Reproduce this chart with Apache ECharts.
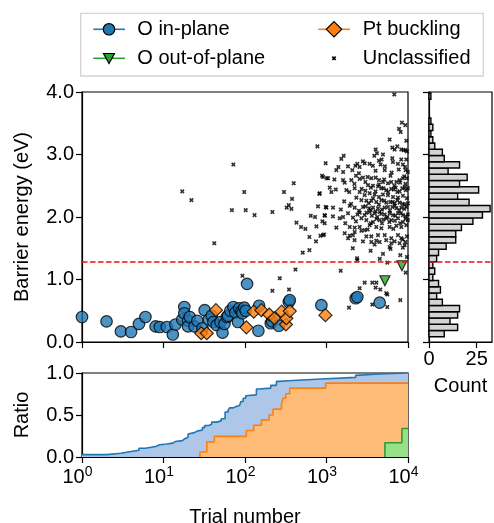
<!DOCTYPE html>
<html>
<head>
<meta charset="utf-8">
<script src="https://cdn.jsdelivr.net/npm/echarts@6/dist/echarts.min.js"></script>
<style>
  html, body { margin: 0; padding: 0; background: #fff; }
  #chart { width: 494px; height: 523px; }
</style>
</head>
<body>
<div id="chart"></div>
<script>
// trial number, barrier energy (eV)
var inPlane = [[1,0.40],[2,0.33],[3,0.17],[4,0.16],[5,0.29],[6,0.40],[8,0.25],[9,0.24],[11,0.24],[13,0.12],[14,0.28],
  [17,0.36],[18,0.56],[18,0.46],[20,0.34],[20,0.25],[21,0.40],[24,0.25],[26,0.34],[30,0.22],[32,0.51],[36,0.36],
  [39,0.42],[41,0.32],[45,0.27],[50,0.32],[53,0.15],[56,0.29],[60,0.40],[62,0.42],[66,0.50],[72,0.56],[76,0.47],
  [82,0.32],[85,0.54],[90,0.49],[93,0.46],[98,0.55],[102,0.50],[106,0.93],[146,0.18],[149,0.58],[207,0.30],
  [215,0.33],[260,0.26],[345,0.64],[354,0.67],[865,0.59],[2280,0.70],[2390,0.72],[4490,0.63]];
var outOfPlane = [[5210,0.98],[8420,1.22]];
var buckling = [[29,0.14],[34,0.14],[44,0.51],[104,0.235],[128,0.485],[159,0.51],[198,0.44],[229,0.38],
  [282,0.485],[318,0.28],[322,0.38],[354,0.495],[970,0.43]];
var unclassified = [
  [17,2.41],[22,2.27],[42,1.58],[69,2.11],[72,2.84],[93,1.06],[98,2.40],[102,2.11],[131,2.03],[217,2.08],[217,0.82],
  [267,1.02],[301,2.40],[325,2.15],[344,2.19],[347,0.84],[371,2.13],[378,2.29],[396,2.54],[416,1.16],[428,1.91],
  [487,1.84],[511,1.43],[551,1.81],[617,1.68],[617,1.47],[640,2.02],[723,2.00],[743,1.61],[752,1.85],[773,3.13],
  [787,2.17],[818,2.37],[842,1.70],[881,2.66],[891,1.93],[933,1.72],[955,2.02],[977,2.16],[977,2.86],[1010,2.62],
  [6790,3.96],[8420,3.51],[9270,3.47],[7760,3.41],[8130,3.36],[5950,3.24],[9530,3.22],[7390,3.13],[6420,3.11],
  [8270,3.08],[9340,3.07],[6850,3.08],[8830,3.07],[9700,3.05],[4010,3.08],[4160,3.02],[4930,3.00],[3860,2.98],
  [1625,2.98],[4750,2.92],[1520,2.93],[2800,2.89],[4400,2.90],[6420,2.94],[8270,2.92],[9530,2.92],[1835,2.81],
  [2260,2.82],[2390,2.85],[2550,2.80],[2940,2.86],[3380,2.85],[4610,2.84],[6530,2.88],[7520,2.85],[8660,2.84],
  [1321,2.75],[2075,2.75],[5176,2.75],[9354,2.75],[9977,2.72],
  [908,2.64],[1045,2.62],[1596,2.59],[1671,2.55],[2018,2.59],[2553,2.61],[2805,2.63],[3548,2.62],[4009,2.63],
  [4406,2.59],[4932,2.56],[5675,2.54],[6237,2.56],[7194,2.56],[7889,2.59],[8670,2.62],[9705,2.62],
  [3228,2.51],[3724,2.50],[4285,2.49],[4710,2.46],[5420,2.43],[6237,2.45],[7047,2.47],[7889,2.41],[9099,2.48],
  [9977,2.46],[1096,2.47],[1754,2.43],[2218,2.46],
  [2553,2.40],[2938,2.35],[3388,2.38],[3724,2.30],[4406,2.32],[4932,2.36],[5675,2.35],[6546,2.32],[7534,2.31],
  [8670,2.34],[9705,2.30],[826,2.38],[1148,2.40],
  [2323,2.31],[2679,2.27],[3083,2.26],[3548,2.26],[4083,2.24],[4710,2.27],[5420,2.23],[6067,2.24],[6855,2.22],
  [7889,2.23],[9099,2.20],[9977,2.22],
  [998,2.15],[1202,2.15],[1928,2.18],[2218,2.15],[2805,2.16],[3327,2.14],[3724,2.15],[4285,2.14],[5176,2.15],
  [5675,2.16],[6427,2.16],[7194,2.14],[8279,2.15],[9528,2.16],
  [950,2.03],[1452,1.98],[1596,2.00],[1837,2.06],[2113,1.99],[2553,2.07],[2938,2.03],[3388,2.08],[3899,2.06],
  [4487,2.08],[5176,2.04],[5957,2.06],[6546,2.03],[7534,2.06],[8670,2.03],[9977,2.04],
  [950,1.90],[2679,1.98],[3083,1.95],[3724,1.92],[4487,1.95],[5420,1.98],[6237,1.95],[7534,1.98],[8670,1.92],[9977,1.95],
  [1321,1.83],[1928,1.84],[2218,1.83],[2553,1.84],[2938,1.79],[3388,1.87],[4083,1.84],[4710,1.82],[5957,1.84],
  [7194,1.86],[8279,1.84],[9528,1.87],
  [908,1.71],[1671,1.74],[1928,1.70],[2113,1.71],[3083,1.69],[3548,1.69],[4285,1.71],[5176,1.71],[6237,1.66],
  [7534,1.71],[8279,1.66],[9705,1.69],[2218,1.76],[2679,1.78],
  [3548,1.60],[4487,1.60],[5957,1.52],[7889,1.58],[9099,1.55],[3899,1.56],[6237,1.58],
  [2390,1.31],[2370,1.34],[9700,1.36],[4500,1.33],[3480,1.46],[4930,1.41],[8050,1.39],[6100,1.49],[8650,1.51],
  [2100,1.50],[1840,1.66],[2210,1.63],[2800,1.61],[4080,1.62],[5400,1.63],[6850,1.61],[8600,1.64],[9300,1.60],
  [3200,1.80],[6600,1.81],
  [1700,1.90],[2300,1.93],[3500,1.90],[4100,1.97],[4800,1.90],[5000,1.96],[5900,1.92],[6900,1.94],[8000,1.90],[9300,1.97],
  [1200,2.01],[2400,2.04],[3100,2.07],[3600,2.02],[4200,2.00],[4700,2.05],[5600,2.00],[7000,2.02],[8200,2.06],[9400,2.01],
  [1500,2.12],[2500,2.10],[3000,2.17],[3500,2.11],[4000,2.09],[4800,2.12],[6000,2.10],[6900,2.18],[7800,2.11],[9000,2.13],
  [1650,2.25],[2000,2.21],[3300,2.22],[4400,2.20],[5100,2.26],[6500,2.24],[7400,2.27],[8600,2.21],[3900,2.36],
  [1300,2.44],[1900,2.40],[2700,2.45],[3000,2.42],[3500,2.47],[4000,2.41],[5000,2.46],[5700,2.40],[6700,2.44],
  [7400,2.40],[8500,2.46],[9400,2.43],
  [2200,2.53],[3000,2.56],[4400,2.52],[6800,2.50],[8000,2.55],[9300,2.53],
  [1250,2.60],[2300,2.66],[3200,2.64],[5100,2.60],[6100,2.66],[9000,2.65],
  [1600,2.72],[2500,2.70],[4000,2.74],[6300,2.71],[7700,2.76],
  [1400,2.80],[3700,2.82],[5200,2.81],[9200,2.80],
  [1493,1.14],[2938,0.95],[3648,0.95],[4083,0.95],[4009,0.87],[4571,0.84],[5570,0.76],[2553,0.86],[8050,0.67],
  [3648,0.60],[5570,0.56],[1888,0.55],[9354,1.11],[5570,1.27],[5408,0.78]
];
var threshold = 1.28;

// histogram of barrier energies: bins start at histStart, width histBinWidth
var histStart = 0.085;
var histBinWidth = 0.1;
var histCounts = [8,15,11,15,16,7,4,6,5,2,3,2,4,5,9,14,14,17,23,28,32,21,15,26,16,20,10,16,8,7,3,2,1,2,1,0,0,0,1];

// cumulative ratio curves (trial number, ratio)
var ratioInPlane = [[1,0.028],[2,0.044],[3,0.065],[4,0.081],[5,0.105],[6,0.125],[8,0.145],[9,0.155],[11,0.165],
  [13,0.185],[14,0.195],[17,0.214],[18,0.235],[20,0.274],[21,0.29],[24,0.31],[26,0.32],[30,0.35],[32,0.375],
  [36,0.39],[39,0.415],[45,0.43],[51,0.456],[57,0.535],[62,0.56],[65,0.585],[72,0.60],[78,0.617],[86,0.63],
  [89,0.66],[95,0.70],[102,0.73],[106,0.74],[138,0.81],[148,0.82],[207,0.853],[243,0.90],[262,0.908],[340,0.928],
  [865,0.948],[2280,0.972],[2390,0.988],[4490,1.0],[10000,1.0]];
var ratioBuckling = [[28,0],[28,0.06],[34,0.18],[42,0.246],[104,0.315],[128,0.378],[159,0.442],[198,0.50],
  [221,0.57],[280,0.63],[293,0.70],[316,0.753],[354,0.82],[977,0.88],[10000,0.88]];
var ratioOutOfPlane = [[5210,0],[5210,0.17],[8420,0.34],[10000,0.34]];

var FONT = 'Liberation Sans, Arial, sans-serif';
var BLUE = '#1f77b4', ORANGE = '#ff7f0e', GREEN = '#2ca02c';
var XMARK = 'path://M0,2L2,0L4,2L6,0L8,2L6,4L8,6L6,8L4,6L2,8L0,6L2,4Z';

var histData = histCounts.map(function (c, i) {
  return [histStart + i * histBinWidth, histStart + (i + 1) * histBinWidth, c];
});

function axisBase() {
  return {
    axisLine: { show: true, onZero: false, lineStyle: { color: '#000', width: 1.2 } },
    axisTick: { show: true, length: 6, lineStyle: { color: '#000', width: 1.2 } },
    axisLabel: { color: '#000', fontSize: 20, fontFamily: FONT },
    splitLine: { show: false },
    nameTextStyle: { color: '#000', fontSize: 20, fontFamily: FONT }
  };
}
function merge(a, b) { for (var k in b) a[k] = b[k]; return a; }

var chart = echarts.init(document.getElementById('chart'), null, { renderer: 'canvas' });

var gridStyle = { show: true, borderColor: '#000', borderWidth: 1.2, backgroundColor: 'transparent',
  containLabel: false, outerBoundsMode: 'none' };

var option = {
  animation: false,
  backgroundColor: '#fff',
  grid: [
    merge({ left: 82, top: 92, width: 326, height: 250 }, gridStyle),
    merge({ left: 82, top: 373, width: 326, height: 84 }, gridStyle),
    merge({ left: 429, top: 92, width: 63, height: 250 }, gridStyle)
  ],
  xAxis: [
    merge(axisBase(), { gridIndex: 0, type: 'log', logBase: 10, min: 1, max: 10000,
      axisLabel: { show: false } }),
    merge(axisBase(), { gridIndex: 1, type: 'log', logBase: 10, min: 1, max: 10000,
      name: 'Trial number', nameLocation: 'middle', nameGap: 50,
      axisLabel: {
        margin: 8, color: '#000', fontFamily: FONT,
        formatter: function (v) { return '{b|10}{s|' + Math.round(Math.log10(v)) + '}'; },
        rich: {
          b: { fontSize: 20, lineHeight: 20, fontFamily: FONT, color: '#000', padding: [5, 0, 0, 0] },
          s: { fontSize: 14, lineHeight: 14, fontFamily: FONT, color: '#000', verticalAlign: 'top', padding: [0, 9, 0, 0] }
        }
      } }),
    merge(axisBase(), { gridIndex: 2, type: 'value', min: 0, max: 33, interval: 25,
      name: 'Count', nameLocation: 'middle', nameGap: 34,
      axisLabel: { color: '#000', fontSize: 20, fontFamily: FONT, margin: 7,
        showMaxLabel: false } })
  ],
  yAxis: [
    merge(axisBase(), { gridIndex: 0, type: 'value', min: 0, max: 4, interval: 1,
      name: 'Barrier energy (eV)', nameLocation: 'middle', nameGap: 50,
      axisLabel: { color: '#000', fontSize: 20, fontFamily: FONT, margin: 8,
        formatter: function (v) { return v.toFixed(1); } } }),
    merge(axisBase(), { gridIndex: 1, type: 'value', min: 0, max: 1, interval: 0.5,
      name: 'Ratio', nameLocation: 'middle', nameGap: 50,
      axisLabel: { color: '#000', fontSize: 20, fontFamily: FONT, margin: 8,
        formatter: function (v) { return v.toFixed(1); } } }),
    merge(axisBase(), { gridIndex: 2, type: 'value', min: 0, max: 4, interval: 1,
      axisLabel: { show: false } })
  ],
  series: [
    {
      name: 'O in-plane', type: 'scatter', xAxisIndex: 0, yAxisIndex: 0,
      data: inPlane, symbol: 'circle', symbolSize: 11.5,
      itemStyle: { color: BLUE, borderColor: '#000', borderWidth: 1.2 }
    },
    {
      name: 'O out-of-plane', type: 'scatter', xAxisIndex: 0, yAxisIndex: 0,
      data: outOfPlane, symbol: 'triangle', symbolRotate: 180, symbolSize: 10,
      itemStyle: { color: GREEN, borderColor: '#000', borderWidth: 1.2 }
    },
    {
      name: 'Pt buckling', type: 'scatter', xAxisIndex: 0, yAxisIndex: 0,
      data: buckling, symbol: 'diamond', symbolSize: 13,
      itemStyle: { color: ORANGE, borderColor: '#000', borderWidth: 1.2 }
    },
    {
      name: 'Unclassified', type: 'scatter', xAxisIndex: 0, yAxisIndex: 0,
      data: unclassified, symbol: XMARK, symbolSize: 4.6,
      itemStyle: { color: '#000' },
      markLine: {
        silent: true, symbol: 'none', label: { show: false },
        lineStyle: { color: '#ee1111', type: [5.5, 2.5], width: 1.6 },
        data: [{ yAxis: threshold }]
      }
    },
    {
      name: 'hist', type: 'custom', xAxisIndex: 2, yAxisIndex: 2,
      data: histData, encode: { x: 2, y: [0, 1] },
      renderItem: function (params, api) {
        if (api.value(2) <= 0) return null;
        var p0 = api.coord([0, api.value(0)]);
        var p1 = api.coord([api.value(2), api.value(1)]);
        return {
          type: 'rect',
          shape: { x: p0[0], y: p1[1], width: p1[0] - p0[0], height: p0[1] - p1[1] },
          style: { fill: '#d3d3d3', stroke: '#000', lineWidth: 1.4 }
        };
      }
    },
    {
      name: 'histThreshold', type: 'line', xAxisIndex: 2, yAxisIndex: 2,
      data: [[0, threshold], [33, threshold]], symbol: 'none', silent: true,
      lineStyle: { color: '#ee1111', type: [5.5, 2.5], width: 1.6 }, z: 5
    },
    {
      name: 'ratioInPlane', type: 'line', xAxisIndex: 1, yAxisIndex: 1, step: 'end',
      data: ratioInPlane, symbol: 'none',
      lineStyle: { color: BLUE, width: 1.6 },
      areaStyle: { color: '#aec7e8', opacity: 1 }
    },
    {
      name: 'ratioBuckling', type: 'line', xAxisIndex: 1, yAxisIndex: 1, step: 'end',
      data: ratioBuckling, symbol: 'none',
      lineStyle: { color: ORANGE, width: 1.6 },
      areaStyle: { color: '#ffbb78', opacity: 1 }
    },
    {
      name: 'ratioOutOfPlane', type: 'line', xAxisIndex: 1, yAxisIndex: 1, step: 'end',
      data: ratioOutOfPlane, symbol: 'none',
      lineStyle: { color: GREEN, width: 1.6 },
      areaStyle: { color: '#98df8a', opacity: 1 }
    }
  ],
  graphic: [
    { type: 'rect', shape: { x: 80.7, y: 13.3, width: 402.6, height: 62.7 },
      style: { fill: '#fff', stroke: '#d4d4d4', lineWidth: 1.3 } },
    { type: 'line', shape: { x1: 93.3, y1: 29.3, x2: 125, y2: 29.3 }, style: { stroke: BLUE, lineWidth: 1.6 } },
    { type: 'circle', shape: { cx: 109, cy: 29.3, r: 5.7 }, style: { fill: BLUE, stroke: '#000', lineWidth: 1.2 } },
    { type: 'text', x: 137.3, y: 29.3, style: { text: 'O in-plane', fontSize: 20, fontFamily: FONT, fill: '#000',
      verticalAlign: 'middle', textVerticalAlign: 'middle' } },
    { type: 'line', shape: { x1: 93.3, y1: 58.3, x2: 125, y2: 58.3 }, style: { stroke: GREEN, lineWidth: 1.6 } },
    { type: 'polygon', shape: { points: [[103.5, 53.5], [114.5, 53.5], [109, 63.5]] },
      style: { fill: GREEN, stroke: '#000', lineWidth: 1.2 } },
    { type: 'text', x: 137.3, y: 58.3, style: { text: 'O out-of-plane', fontSize: 20, fontFamily: FONT, fill: '#000',
      verticalAlign: 'middle', textVerticalAlign: 'middle' } },
    { type: 'line', shape: { x1: 318.3, y1: 29.3, x2: 350, y2: 29.3 }, style: { stroke: ORANGE, lineWidth: 1.6 } },
    { type: 'polygon', shape: { points: [[334, 21.6], [341.7, 29.3], [334, 37], [326.3, 29.3]] },
      style: { fill: ORANGE, stroke: '#000', lineWidth: 1.2 } },
    { type: 'text', x: 362.7, y: 29.3, style: { text: 'Pt buckling', fontSize: 20, fontFamily: FONT, fill: '#000',
      verticalAlign: 'middle', textVerticalAlign: 'middle' } },
    { type: 'line', shape: { x1: 332.3, y1: 56.6, x2: 335.7, y2: 60 }, style: { stroke: '#000', lineWidth: 1.6 } },
    { type: 'line', shape: { x1: 332.3, y1: 60, x2: 335.7, y2: 56.6 }, style: { stroke: '#000', lineWidth: 1.6 } },
    { type: 'text', x: 362.7, y: 58.3, style: { text: 'Unclassified', fontSize: 20, fontFamily: FONT, fill: '#000',
      verticalAlign: 'middle', textVerticalAlign: 'middle' } }
  ]
};

chart.setOption(option);
</script>
</body>
</html>
